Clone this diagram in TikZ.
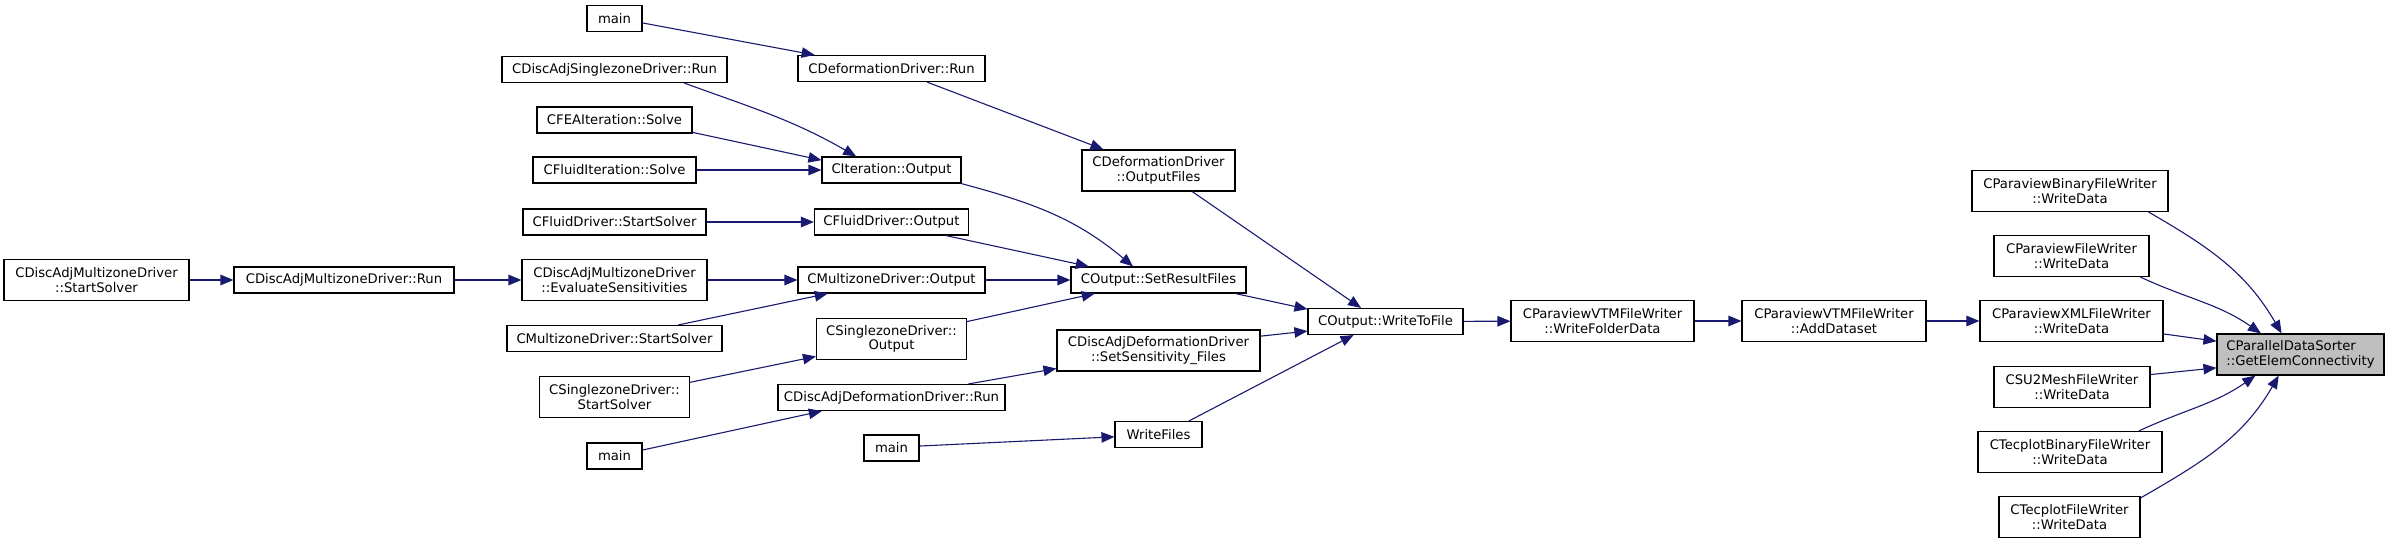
\documentclass[tikz,border=0pt]{standalone}
\usepackage{fontspec}
\setmainfont{DejaVu Sans}
\usepackage{tikz}
\usepackage{xcolor}
\usetikzlibrary{arrows.meta}
\definecolor{callblue}{HTML}{191970}
\definecolor{rootgray}{HTML}{BFBFBF}

\begin{document}
\begin{tikzpicture}[
x=1pt, y=1pt,
func/.style={draw=black, line width=1.1pt, fill=white, inner sep=0pt, minimum height=26pt, align=center, font=\fontsize{13.2}{14.7}\selectfont},
func2/.style={func, minimum height=41pt},
call/.style={-{Triangle[length=13pt, width=10.5pt]}, draw=callblue, line width=1.1pt}
]
\useasboundingbox (0,0) rectangle (2388,-543);
\node[func, minimum width=55pt] (mainA) at (614.5,-18.5) {main};
\node[func, minimum width=225pt] (dasRun) at (614.5,-69.5) {CDiscAdjSinglezoneDriver::Run};
\node[func, minimum width=187pt] (defRun) at (891.5,-68.5) {CDeformationDriver::Run};
\node[func, minimum width=155pt] (feaSolve) at (614.5,-120) {CFEAIteration::Solve};
\node[func, minimum width=163pt] (fluidItSolve) at (614.5,-170) {CFluidIteration::Solve};
\node[func, minimum width=139pt] (itOutput) at (891.5,-170) {CIteration::Output};
\node[func2, minimum width=153pt] (defOutFiles) at (1158.5,-170.5) {CDeformationDriver\\::OutputFiles};
\node[func, minimum width=183pt] (fluidStart) at (614.5,-222) {CFluidDriver::StartSolver};
\node[func, minimum width=154pt] (fluidOutput) at (891.5,-222) {CFluidDriver::Output};
\node[func2, minimum width=185pt] (damStart) at (96.5,-280) {CDiscAdjMultizoneDriver\\::StartSolver};
\node[func, minimum width=220pt] (damRun) at (344,-280) {CDiscAdjMultizoneDriver::Run};
\node[func2, minimum width=185pt] (damEval) at (614.5,-280) {CDiscAdjMultizoneDriver\\::EvaluateSensitivities};
\node[func, minimum width=187pt] (mzOutput) at (891.5,-280) {CMultizoneDriver::Output};
\node[func, minimum width=175pt] (setResult) at (1158.5,-280) {COutput::SetResultFiles};
\node[func, minimum width=215pt] (mzStart) at (614.5,-338.5) {CMultizoneDriver::StartSolver};
\node[func2, minimum width=150pt] (szOutput) at (891.5,-339) {CSinglezoneDriver::\\Output};
\node[func2, minimum width=203pt] (sensFiles) at (1158.5,-350.5) {CDiscAdjDeformationDriver\\::SetSensitivity\_Files};
\node[func2, minimum width=150pt] (szStart) at (614.5,-397) {CSinglezoneDriver::\\StartSolver};
\node[func, minimum width=227pt] (dadRun) at (891.5,-397.5) {CDiscAdjDeformationDriver::Run};
\node[func, minimum width=55pt] (mainB) at (614.5,-456) {main};
\node[func, minimum width=55pt] (mainC) at (891.5,-448) {main};
\node[func, minimum width=87pt] (writeFiles) at (1158.5,-434.5) {WriteFiles};
\node[func, minimum width=155pt] (writeToFile) at (1385.5,-321.5) {COutput::WriteToFile};
\node[func2, minimum width=183pt] (folderData) at (1602.5,-321) {CParaviewVTMFileWriter\\::WriteFolderData};
\node[func2, minimum width=184pt] (addDataset) at (1834,-321) {CParaviewVTMFileWriter\\::AddDataset};
\node[func2, minimum width=183pt] (xmlData) at (2071.5,-321) {CParaviewXMLFileWriter\\::WriteData};
\node[func2, minimum width=167pt, fill=rootgray, align=left] (getElem) at (2300.5,-354.5) {CParallelDataSorter\\::GetElemConnectivity};
\node[func2, minimum width=196pt] (binData) at (2070,-191) {CParaviewBinaryFileWriter\\::WriteData};
\node[func2, minimum width=155pt] (pvData) at (2071.5,-256) {CParaviewFileWriter\\::WriteData};
\node[func2, minimum width=156pt] (su2Data) at (2072,-387) {CSU2MeshFileWriter\\::WriteData};
\node[func2, minimum width=184pt] (tecBinData) at (2070,-452) {CTecplotBinaryFileWriter\\::WriteData};
\node[func2, minimum width=141pt] (tecData) at (2069.5,-517) {CTecplotFileWriter\\::WriteData};
\draw[call] (mainA.-9) -- (defRun.170);
\draw[call] (dasRun.-11) to[out=-20, in=150] (itOutput.159);
\draw[call] (feaSolve.-9) -- (itOutput.172);
\draw[call] (fluidItSolve) -- (itOutput);
\draw[call] (defRun) -- (defOutFiles);
\draw[call] (fluidStart) -- (fluidOutput);
\draw[call] (itOutput.-11) to[out=-15, in=140] (setResult.152);
\draw[call] (fluidOutput.-14) -- (setResult.169);
\draw[call] (mzOutput) -- (setResult);
\draw[call] (damStart) -- (damRun);
\draw[call] (damRun) -- (damEval);
\draw[call] (damEval) -- (mzOutput);
\draw[call] (mzStart.12) -- (mzOutput.-168);
\draw[call] (szStart.11) -- (szOutput.-167);
\draw[call] (szOutput.13) -- (setResult.-168);
\draw[call] (dadRun.10) -- (sensFiles.-170);
\draw[call] (mainB.12) -- (dadRun.-169);
\draw[call] (mainC.4) -- (writeFiles.-177);
\draw[call] (setResult.-10) -- (writeToFile.171);
\draw[call] (defOutFiles.-32) -- (writeToFile.151);
\draw[call] (sensFiles.8) -- (writeToFile.-173);
\draw[call] (writeFiles.24) -- (writeToFile.-157);
\draw[call] (writeToFile) -- (folderData);
\draw[call] (folderData) -- (addDataset);
\draw[call] (addDataset) -- (xmlData);
\draw[call] (binData.-15) to[out=-30, in=120] (getElem.132);
\draw[call] (pvData.-17) to[out=-25, in=145] (getElem.152);
\draw[call] (xmlData.-8) -- (getElem.171);
\draw[call] (su2Data.9) -- (getElem.-171);
\draw[call] (tecBinData.17) to[out=25, in=-145] (getElem.-155);
\draw[call] (tecData.15) to[out=30, in=-120] (getElem.-136);
\end{tikzpicture}
\end{document}
